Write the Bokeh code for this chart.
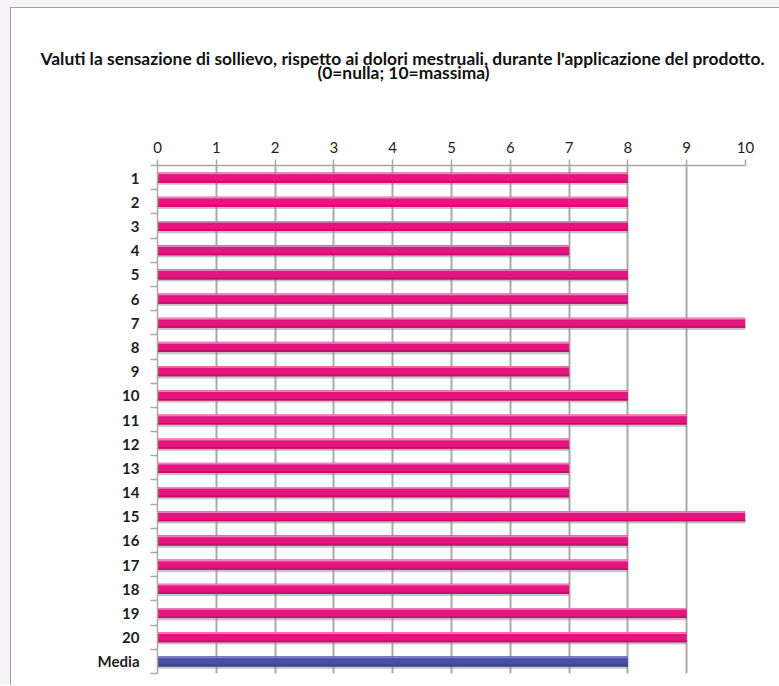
from bokeh.plotting import figure
from bokeh.models import Range1d, FixedTicker, ColumnDataSource
from bokeh.layouts import column
from bokeh.transform import dodge
from bokeh.core.properties import value
from bokeh.embed import file_html
from bokeh.resources import INLINE

# Ratings of relief per respondent, plus the mean row
categories = [str(i) for i in range(1, 21)] + ["Media"]
scores = [8, 8, 8, 7, 8, 8, 10, 7, 7, 8, 9, 7, 7, 7, 10, 8, 8, 7, 9, 9]
media = [8]
x_ticks = [0, 1, 2, 3, 4, 5, 6, 7, 8, 9, 10]

title_lines = [
    "Valuti la sensazione di sollievo, rispetto ai dolori mestruali, durante l'applicazione del prodotto.",
    "(0=nulla; 10=massima)",
]

values = scores + media
ypos = list(range(len(categories)))
n_resp = len(scores)

body = ["#e3167f"] * n_resp + ["#4a4fa1"]
light = ["#f27fb6"] * n_resp + ["#7d81c4"]
dark = ["#c10f6b"] * n_resp + ["#3a3e8a"]

src = ColumnDataSource(dict(y=ypos, v=values, body=body, light=light, dark=dark))

FONT = "Lato"
GRID = "#a9a9a9"
EDGE = "1px solid #a3a3a3"
PAGE_BG = "#f8f3f8"
W = 769
HEAD_H = 120

# --- heading strip -------------------------------------------------------
head = figure(
    width=W, height=HEAD_H,
    x_range=Range1d(0, W), y_range=Range1d(HEAD_H, 0),
    x_axis_type=None, y_axis_type=None,
    output_backend="svg", toolbar_location=None, tools="",
    min_border=0, background_fill_color="white", border_fill_color="white",
)
head.outline_line_color = None
head.grid.visible = False
head.text(x=[391, 392], y=[50, 64], text=title_lines,
          text_align="center", text_baseline="middle",
          text_font=value(FONT), text_font_style="bold", text_font_size="17.4px",
          text_color="#111111")
head.styles = {"border-left": EDGE, "border-top": EDGE}

# --- bar chart -----------------------------------------------------------
p = figure(
    width=W, height=686 - 8 - HEAD_H,
    x_range=Range1d(0, 10), y_range=Range1d(len(categories) - 0.5, -0.5),
    x_axis_location="above",
    output_backend="svg", toolbar_location=None, tools="",
    min_border_left=146, min_border_right=35, min_border_top=38, min_border_bottom=12,
    background_fill_color="white", border_fill_color="white",
)
p.outline_line_color = None
p.styles = {"border-left": EDGE}

# bar shadow, body and the bevel strips
BH = 0.42
p.hbar(y=dodge("y", 0.09), left=0, right="v", height=BH, source=src,
       fill_color="#8c8c8c", fill_alpha=0.5, line_color=None)
p.hbar(y="y", left=0, right="v", height=BH, source=src,
       fill_color="body", line_color=None)
p.hbar(y=dodge("y", -0.17), left=0, right="v", height=0.07, source=src,
       fill_color="light", line_color=None)
p.hbar(y=dodge("y", 0.175), left=0, right="v", height=0.07, source=src,
       fill_color="dark", line_color=None)

# value axis on top
xa = p.xaxis[0]
xa.ticker = FixedTicker(ticks=x_ticks)
xa.axis_line_color = GRID
xa.axis_line_width = 1.5
xa.major_tick_line_color = GRID
xa.major_tick_line_width = 1.5
xa.major_tick_out = 6
xa.major_tick_in = 0
xa.minor_tick_line_color = None
xa.major_label_text_font = FONT
xa.major_label_text_font_size = "15px"
xa.major_label_text_color = "#1e1e1e"
xa.major_label_standoff = 7

# category axis: labels centred on the rows, tick marks between rows
ya = p.yaxis[0]
bounds = [i - 0.5 for i in range(len(categories) + 1)]
ya.ticker = FixedTicker(ticks=ypos, minor_ticks=bounds)
ya.major_label_overrides = {i: c for i, c in zip(ypos, categories)}
ya.axis_line_color = GRID
ya.axis_line_width = 1.5
ya.major_tick_line_color = None
ya.minor_tick_line_color = GRID
ya.minor_tick_line_width = 1.5
ya.minor_tick_out = 7
ya.minor_tick_in = 0
ya.major_label_text_font = FONT
ya.major_label_text_font_style = "bold"
ya.major_label_text_font_size = "15px"
ya.major_label_text_color = "#1e1e1e"
ya.major_label_standoff = 11

p.xgrid.ticker = FixedTicker(ticks=x_ticks)
p.xgrid.grid_line_color = GRID
p.xgrid.grid_line_width = 2
p.ygrid.grid_line_color = None

# two separate roots so the heading keeps its own full-width frame;
# the faint page tint shows as a band above and to the left of the card
top_part = column(head, styles={"background-color": "white",
                                "border-top": f"7px solid {PAGE_BG}",
                                "border-left": f"10px solid {PAGE_BG}"})
bottom_part = column(p, styles={"background-color": "white",
                                "border-left": f"10px solid {PAGE_BG}"})

open("out.html", "w").write(file_html([top_part, bottom_part], INLINE))
